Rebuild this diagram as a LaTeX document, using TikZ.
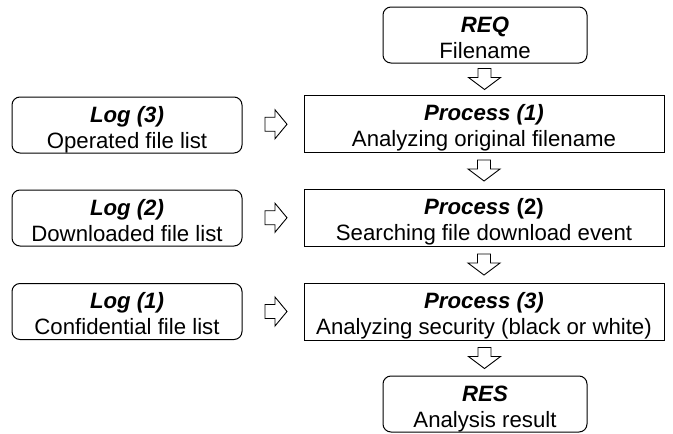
\documentclass[tikz,border=0pt]{standalone}
\usepackage{fontspec}
\setmainfont{Liberation Sans}
\usetikzlibrary{calc}
\tikzset{
  x=1pt, y=1pt,
  % the text block's baseline is its last line: fix it 23pt below the centre
  base/.style={draw, line width=1pt, align=center, inner sep=0pt,
    text height=51pt, text depth=5pt,
    font=\fontsize{22.2}{26}\selectfont},
  procbox/.style={base, minimum width=360pt, minimum height=57pt},
  endbox/.style={base, rounded corners=8pt, minimum width=204pt, minimum height=56pt},
  logbox/.style={base, rounded corners=8pt, minimum width=230pt, minimum height=56pt},
  hollow/.style={draw, line width=0.9pt, fill=white, line join=miter},
  downarrow/.pic={
    \draw[hollow] (-6.5,10.5) -- (6.5,10.5) -- (6.5,1.5) -- (16,1.5)
      -- (0,-10.5) -- (-16,1.5) -- (-6.5,1.5) -- cycle;
  },
  rightarrow/.pic={
    \draw[hollow] (-11,7) -- (-1,7) -- (-1,14.5) -- (11,0)
      -- (-1,-14.5) -- (-1,-7) -- (-11,-7) -- cycle;
  },
}
\begin{document}
\begin{tikzpicture}
\useasboundingbox (0,0) rectangle (673,-434);

% main flow
\node[endbox]  (req) at (485,-35)    {\textbf{\textit{REQ}}\\Filename};
\node[procbox] (p1)  at (484,-123.5) {\textbf{\textit{Process (1)}}\\Analyzing original filename};
\node[procbox] (p2)  at (484,-217.5) {\textbf{\textit{Process} (2)}\\Searching file download event};
\node[procbox] (p3)  at (484,-311.5) {\textbf{\textit{Process (3)}}\\Analyzing security (black or white)};
\node[endbox]  (res) at (485,-404)   {\textbf{\textit{RES}}\\Analysis result};

% log inputs
\node[logbox] (log3) at (127,-125)   {\textbf{\textit{Log (3)}}\\Operated file list};
\node[logbox] (log2) at (127,-218)   {\textbf{\textit{Log (2)}}\\Downloaded file list};
\node[logbox] (log1) at (127,-311.5) {\textbf{\textit{Log (1)}}\\Confidential file list};

% hollow block arrows between boxes
\pic at ($(req.south)!0.5!(p1.north)$) {downarrow};
\pic at ($(p1.south)!0.5!(p2.north)$) {downarrow};
\pic at ($(p2.south)!0.5!(p3.north)$) {downarrow};
\pic at ($(p3.south)!0.5!(res.north)$) {downarrow};

\pic at ($(log3.east)!0.5!(p1.west)+(3,0)$) {rightarrow};
\pic at ($(log2.east)!0.5!(p2.west)+(3,0)$) {rightarrow};
\pic at ($(log1.east)!0.5!(p3.west)+(3,0)$) {rightarrow};
\end{tikzpicture}
\end{document}
